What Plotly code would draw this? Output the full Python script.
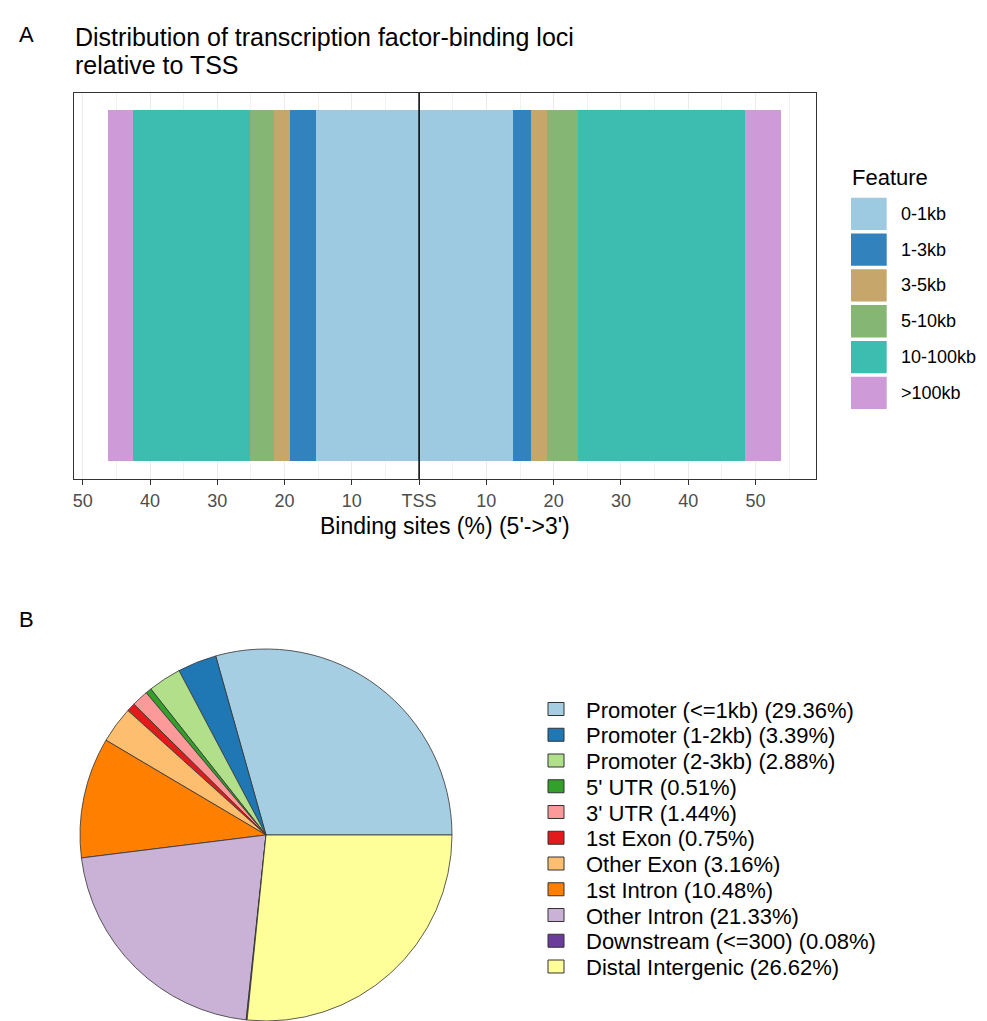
import plotly.graph_objects as go

# The page body has an 8px margin, so the figure is sized to fill the rest of the window
PAGE_W, PAGE_H = 987, 1021
OFF = 8
W, H = PAGE_W - OFF, PAGE_H - OFF

# ---------------- Panel A data ----------------
features = ["0-1kb", "1-3kb", "3-5kb", "5-10kb", "10-100kb", ">100kb"]
upstream_pct = [15.3, 3.9, 2.4, 3.6, 17.4, 3.7]      # 5' side (left of TSS)
downstream_pct = [13.9, 2.7, 2.4, 4.6, 24.9, 5.3]    # 3' side (right of TSS)
feature_colors = ["#9ECAE1", "#3182BD", "#C6A66B", "#86B673", "#3CBDB0", "#CE9AD8"]

tick_vals = [-50, -40, -30, -20, -10, 0, 10, 20, 30, 40, 50]
tick_text = ["50", "40", "30", "20", "10", "TSS", "10", "20", "30", "40", "50"]
minor_vals = [-45, -35, -25, -15, -5, 5, 15, 25, 35, 45, 55]

# ---------------- Panel B data ----------------
anno_names = ["Promoter (<=1kb)", "Promoter (1-2kb)", "Promoter (2-3kb)", "5' UTR", "3' UTR",
              "1st Exon", "Other Exon", "1st Intron", "Other Intron", "Downstream (<=300)",
              "Distal Intergenic"]
anno_pct = [29.36, 3.39, 2.88, 0.51, 1.44, 0.75, 3.16, 10.48, 21.33, 0.08, 26.62]
anno_colors = ["#A6CEE3", "#1F78B4", "#B2DF8A", "#33A02C", "#FB9A99", "#E31A1C",
               "#FDBF6F", "#FF7F00", "#CAB2D6", "#6A3D9A", "#FFFF99"]

FONT = "Liberation Sans, Arial, sans-serif"


def fx(x):
    # screen pixel -> paper x
    return (x - OFF) / W


def fy(y):
    # screen pixel -> paper y
    return 1 - (y - OFF) / H


fig = go.Figure()

for name, up, down, col in zip(features, upstream_pct, downstream_pct, feature_colors):
    fig.add_trace(go.Bar(x=[-up], y=[0], orientation="h", width=0.9, name=name,
                         marker=dict(color=col, line=dict(width=0)), showlegend=False))
    fig.add_trace(go.Bar(x=[down], y=[0], orientation="h", width=0.9, name=name,
                         marker=dict(color=col, line=dict(width=0)), showlegend=False))

# first slice starts at 3 o'clock and runs counter-clockwise
first_angle = anno_pct[0] / sum(anno_pct) * 360
fig.add_trace(go.Pie(labels=anno_names, values=anno_pct, sort=False,
                     direction="counterclockwise", rotation=90 - first_angle,
                     marker=dict(colors=anno_colors, line=dict(color="#333333", width=0.8)),
                     textinfo="none", showlegend=False,
                     domain=dict(x=[fx(266 - 186), fx(266 + 186)], y=[fy(835 + 186), fy(835 - 186)])))

fig.update_layout(
    width=W, height=H,
    margin=dict(l=0, r=0, t=0, b=0),
    paper_bgcolor="white", plot_bgcolor="white",
    barmode="relative", bargap=0,
    font=dict(family=FONT, color="black"),
    xaxis=dict(domain=[fx(74), fx(816)], range=[-51.3, 59.0],
               tickvals=tick_vals, ticktext=tick_text,
               tickfont=dict(size=18, color="#4D4D4D"),
               ticks="outside", ticklen=5, tickcolor="#333333",
               showgrid=True, gridcolor="#EBEBEB", gridwidth=1.3,
               minor=dict(tickvals=minor_vals, showgrid=True, gridcolor="#F2F2F2", gridwidth=0.7, ticks=""),
               showline=True, mirror=True, linecolor="#333333", linewidth=1.2, zeroline=False),
    yaxis=dict(domain=[fy(479), fy(92.7)], range=[-0.496, 0.4925],
               showticklabels=False, showgrid=False, zeroline=False, ticks="",
               showline=True, mirror=True, linecolor="#333333", linewidth=1.2),
)

shapes = [dict(type="line", xref="x", yref="y domain", x0=0, x1=0, y0=0, y1=1,
               line=dict(color="black", width=1.5), layer="above")]
annotations = []

# panel letters
annotations.append(dict(text="A", x=fx(17), y=fy(20), xref="paper", yref="paper",
                        showarrow=False, font=dict(size=22, color="black")))
annotations.append(dict(text="B", x=fx(17), y=fy(619), xref="paper", yref="paper",
                        showarrow=False, font=dict(size=22, color="black")))

# title (two lines)
annotations.append(dict(text="Distribution of transcription factor-binding loci", x=fx(73), y=fy(37),
                        xref="paper", yref="paper", xanchor="left", yanchor="middle",
                        showarrow=False, font=dict(size=25, color="black")))
annotations.append(dict(text="relative to TSS", x=fx(73), y=fy(65),
                        xref="paper", yref="paper", xanchor="left", yanchor="middle",
                        showarrow=False, font=dict(size=25, color="black")))

# x axis title
annotations.append(dict(text="Binding sites (%) (5'->3')", x=fx(445), y=fy(526),
                        xref="paper", yref="paper", xanchor="center", yanchor="middle",
                        showarrow=False, font=dict(size=23, color="black")))

# Panel A legend
annotations.append(dict(text="Feature", x=fx(850), y=fy(177), xref="paper", yref="paper",
                        xanchor="left", yanchor="middle", showarrow=False,
                        font=dict(size=22, color="black")))
for i, (name, col) in enumerate(zip(features, feature_colors)):
    top = 197.7 + i * 35.8
    shapes.append(dict(type="rect", xref="paper", yref="paper",
                       x0=fx(851), x1=fx(886.7), y0=fy(top + 32.3), y1=fy(top),
                       fillcolor=col, line=dict(width=0)))
    annotations.append(dict(text=name, x=fx(899), y=fy(top + 16.2), xref="paper", yref="paper",
                            xanchor="left", yanchor="middle", showarrow=False,
                            font=dict(size=18, color="black")))

# Panel B legend
for i, (name, pct, col) in enumerate(zip(anno_names, anno_pct, anno_colors)):
    cy = 709 + i * 25.75
    shapes.append(dict(type="rect", xref="paper", yref="paper",
                       x0=fx(548), x1=fx(564), y0=fy(cy + 6.5), y1=fy(cy - 6.5),
                       fillcolor=col, line=dict(color="#333333", width=1)))
    annotations.append(dict(text=f"{name} ({pct:.2f}%)", x=fx(584), y=fy(cy + 1),
                            xref="paper", yref="paper", xanchor="left", yanchor="middle",
                            showarrow=False, font=dict(size=22, color="black")))

fig.update_layout(shapes=shapes, annotations=annotations)

fig.write_html("out.html")
